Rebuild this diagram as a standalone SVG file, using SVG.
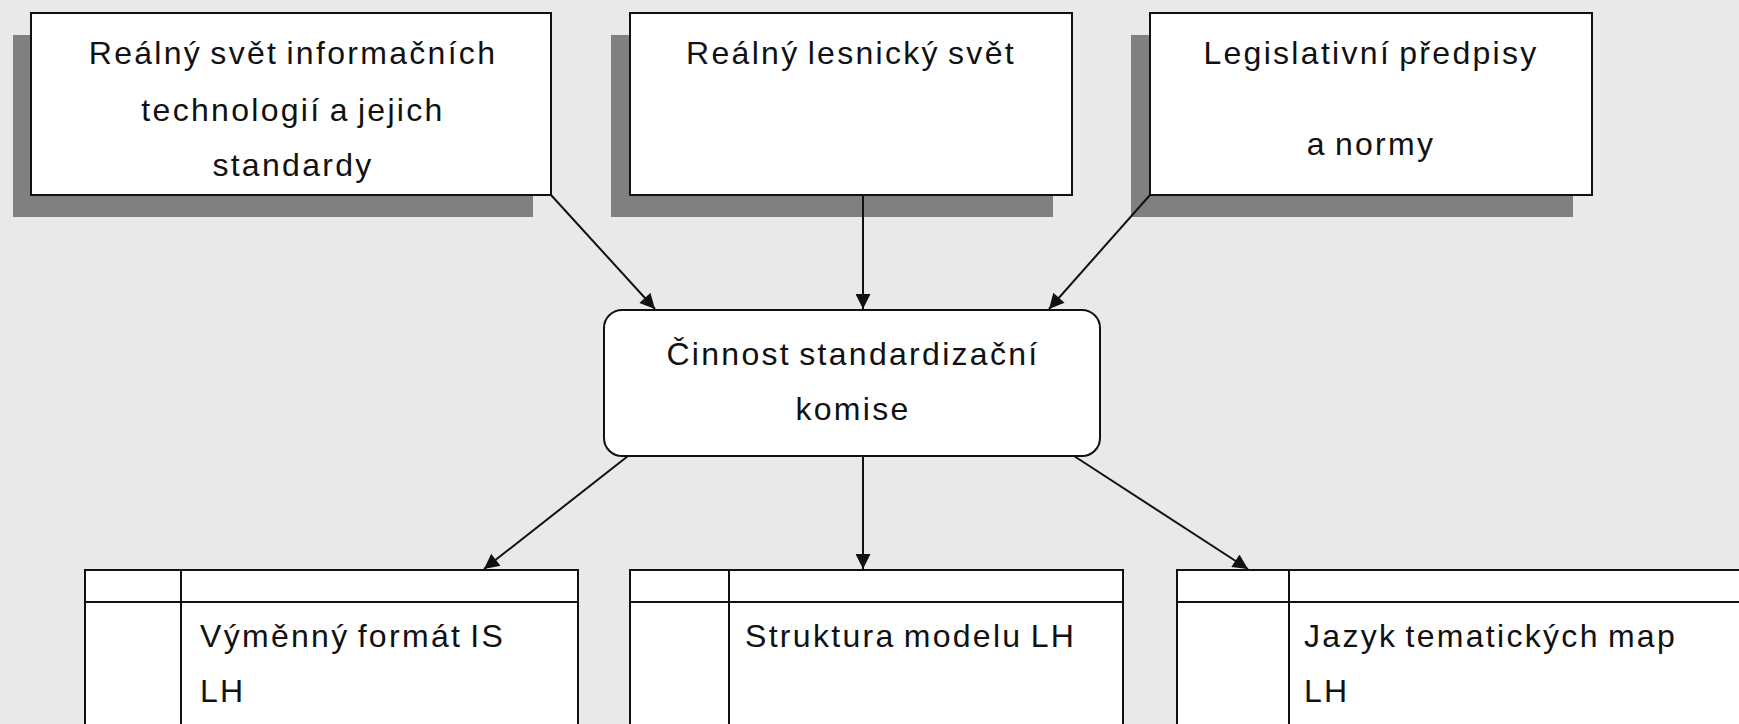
<svg xmlns="http://www.w3.org/2000/svg" width="1739" height="724" viewBox="0 0 1739 724">
<defs>
<style>
.bg{fill:#e9e9e9}
.shadow{fill:#808080}
.box{fill:#ffffff;stroke:#111111;stroke-width:2}
.cell{fill:#ffffff;stroke:#111111;stroke-width:2}
.t{font-family:"Liberation Sans",Arial,sans-serif;font-size:32px;fill:#111111;letter-spacing:2.3px;word-spacing:-3px}
.c{text-anchor:middle}
.edge{stroke:#111111;stroke-width:2;fill:none;marker-end:url(#arr)}
</style>
<marker id="arr" viewBox="0 0 10 10" refX="10" refY="5" markerWidth="16" markerHeight="15" markerUnits="userSpaceOnUse" orient="auto">
<path d="M0,0 L10,5 L0,10 z" fill="#111111"/>
</marker>
</defs>
<rect class="bg" x="0" y="0" width="1739" height="724"/>
<g id="node-it">
<rect class="shadow" x="13" y="35" width="520" height="182"/>
<rect class="box" x="31" y="13" width="520" height="182"/>
<text class="t c" x="293" y="64">Reálný svět informačních</text>
<text class="t c" x="293" y="121">technologií a jejich</text>
<text class="t c" x="293" y="176">standardy</text>
</g>
<g id="node-les">
<rect class="shadow" x="611" y="35" width="442" height="182"/>
<rect class="box" x="630" y="13" width="442" height="182"/>
<text class="t c" x="851" y="64">Reálný lesnický svět</text>
</g>
<g id="node-leg">
<rect class="shadow" x="1131" y="35" width="442" height="182"/>
<rect class="box" x="1150" y="13" width="442" height="182"/>
<text class="t c" x="1371" y="64">Legislativní předpisy</text>
<text class="t c" x="1371" y="155">a normy</text>
</g>
<g id="node-komise">
<rect class="box" x="604" y="310" width="496" height="146" rx="18" ry="18"/>
<text class="t c" x="853" y="365">Činnost standardizační</text>
<text class="t c" x="853" y="420">komise</text>
</g>
<g id="node-format">
<rect class="cell" x="85" y="570" width="493" height="170"/>
<line class="cell" x1="85" y1="602" x2="578" y2="602"/>
<line class="cell" x1="181" y1="570" x2="181" y2="740"/>
<text class="t" x="200" y="647">Výměnný formát IS</text>
<text class="t" x="200" y="702">LH</text>
</g>
<g id="node-model">
<rect class="cell" x="630" y="570" width="493" height="170"/>
<line class="cell" x1="630" y1="602" x2="1123" y2="602"/>
<line class="cell" x1="729" y1="570" x2="729" y2="740"/>
<text class="t" x="745" y="647">Struktura modelu LH</text>
</g>
<g id="node-jazyk">
<rect class="cell" x="1177" y="570" width="600" height="170"/>
<line class="cell" x1="1177" y1="602" x2="1777" y2="602"/>
<line class="cell" x1="1289" y1="570" x2="1289" y2="740"/>
<text class="t" x="1304" y="647">Jazyk tematických map</text>
<text class="t" x="1304" y="702">LH</text>
</g>
<g id="connectors">
<line class="edge" x1="551" y1="195" x2="655" y2="309"/>
<line class="edge" x1="863" y1="195" x2="863" y2="309"/>
<line class="edge" x1="1150" y1="195" x2="1049" y2="309"/>
<line class="edge" x1="628" y1="456" x2="484" y2="569"/>
<line class="edge" x1="863" y1="456" x2="863" y2="569"/>
<line class="edge" x1="1074" y1="456" x2="1248" y2="569"/>
</g>
</svg>
